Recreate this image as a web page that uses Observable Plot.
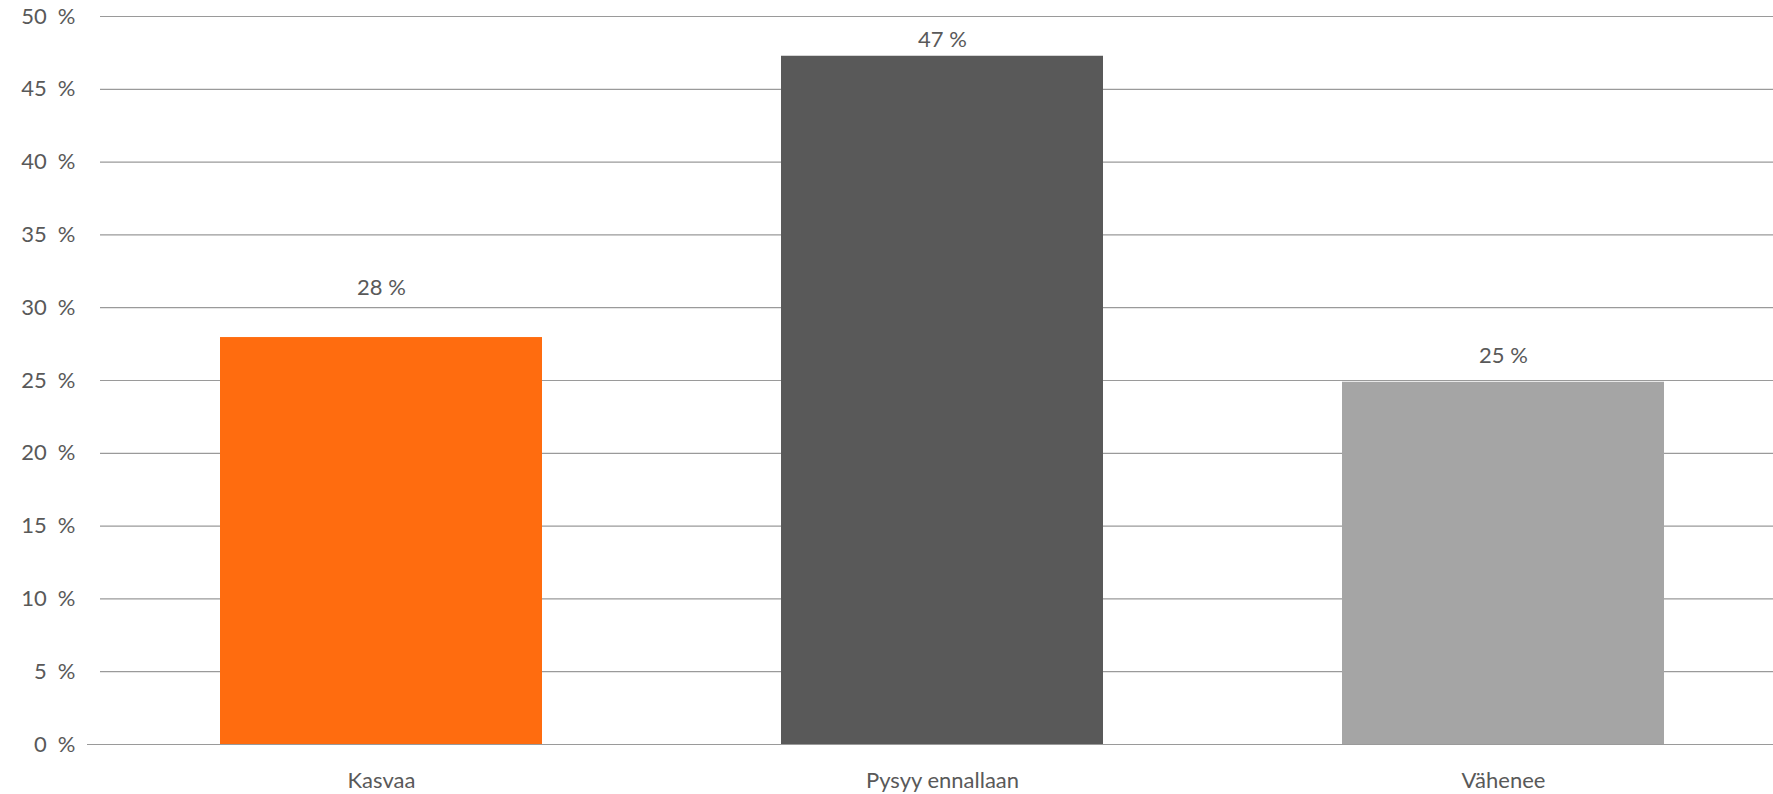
<!DOCTYPE html>
<html><head><meta charset="utf-8">
<script src="https://cdn.jsdelivr.net/npm/d3@7"></script>
<script src="https://cdn.jsdelivr.net/npm/@observablehq/plot@0.6"></script>
<style>
html,body{margin:0;padding:0;background:#fff;overflow:hidden;}
#chart svg{display:block;}
</style>
</head><body><div id="chart"></div>
<script>
const categories = ["Kasvaa", "Pysyy ennallaan", "Vähenee"];
const values = [27.95, 47.27, 24.88];
const colors = ["#FF6C0F", "#595959", "#A5A5A5"];
const yTicks = [0, 5, 10, 15, 20, 25, 30, 35, 40, 45, 50];

const data = categories.map((c, i) => ({category: c, value: values[i], color: colors[i]}));
const labelDy = {"Kasvaa": -43, "Pysyy ennallaan": -9, "Vähenee": -19};

const textColor = "#595959";
const chart = Plot.plot({
  width: 1773,
  height: 794,
  marginTop: 16,
  marginBottom: 50,
  marginLeft: 100,
  marginRight: 0,
  style: {fontFamily: "Lato, sans-serif", fontSize: "22px", color: textColor, background: "#fff"},
  x: {domain: categories, range: [219.4, 1664.3], paddingInner: 0.4265, paddingOuter: 0, label: null},
  y: {domain: [0, 50], label: null},
  marks: [
    Plot.ruleY(yTicks.filter(d => d > 0), {stroke: "#9a9a9a", strokeWidth: 1.2}),
    Plot.axisY({ticks: yTicks, tickSize: 0, tickPadding: 25, tickFormat: d => d + "\u2002%", fontSize: 22, fill: textColor}),
    Plot.axisX({tickSize: 0, tickPadding: 28, fontSize: 22, fill: textColor}),
    Plot.barY(data, {x: "category", y: "value", fill: "color"}),
    Plot.ruleY([0], {stroke: "#9a9a9a", strokeWidth: 1.2, insetLeft: -13}),
    ...categories.map(c => Plot.text(data.filter(d => d.category === c), {
      x: "category", y: "value", text: d => Math.round(d.value) + " %",
      lineAnchor: "bottom", dy: labelDy[c], fill: textColor, fontSize: 22
    }))
  ]
});
document.getElementById("chart").appendChild(chart);
</script>
</body></html>
